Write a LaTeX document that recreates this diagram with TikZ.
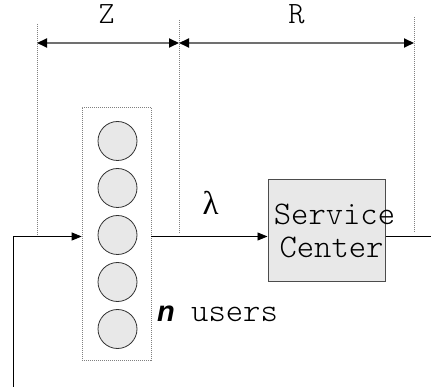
\documentclass[tikz,border=0pt]{standalone}
\usepackage{fontspec}
\newfontfamily\nfont{Liberation Sans}
\newfontfamily\lamfont{Liberation Serif}
\newfontfamily\ttlight{Latin Modern Mono Light}
\usetikzlibrary{arrows.meta}
\definecolor{dimgray}{HTML}{707070}
\definecolor{cellfill}{HTML}{E8E8E8}
\tikzset{
  guide/.style={draw=gray, line width=0.6pt, dash pattern=on 1pt off 1pt},
  dimarrow/.style={draw=dimgray, line width=2pt, {Triangle[length=10pt,width=9pt,color=black]}-{Triangle[length=10pt,width=9pt,color=black]}},
  flow/.style={draw=black, line width=0.9pt, -{Triangle[length=10pt,width=8pt]}},
  plain/.style={draw=black, line width=0.9pt},
  usercell/.style={circle, draw=black!80, fill=cellfill, line width=0.8pt, minimum size=39pt, inner sep=0pt},
  holder/.style={draw=gray, line width=0.6pt, dash pattern=on 1pt off 1pt, minimum width=69pt, minimum height=253pt, inner sep=0pt},
  server/.style={draw=black!70, fill=cellfill, line width=1pt, minimum width=117pt, minimum height=102pt, inner sep=0pt},
  tt/.style={font=\fontsize{33}{35}\ttlight, inner sep=0pt},
}
\begin{document}
\begin{tikzpicture}[x=1pt,y=-1pt]
\useasboundingbox (0,0) rectangle (431,387);
% guides
\coordinate (g1t) at (37,24);  \coordinate (g1b) at (37,235);
\coordinate (g2t) at (179,20); \coordinate (g2b) at (179,233);
\coordinate (g3t) at (414,17); \coordinate (g3b) at (414,232);
\draw[guide] (g1t) -- (g1b);
\draw[guide] (g2t) -- (g2b);
\draw[guide] (g3t) -- (g3b);
% dimensions
\coordinate (d1) at (37,43);
\coordinate (d2) at (179,43);
\coordinate (d3) at (414,43);
\draw[dimarrow] (d1) -- (d2);
\draw[dimarrow] (d2) -- (d3);
\node[font=\fontsize{31}{33}\ttlight, inner sep=0pt, anchor=base] (zl) at (106.5,24) {Z};
\node[font=\fontsize{31}{33}\ttlight, inner sep=0pt, anchor=base] (rl) at (296.5,24) {R};
% users box
\node[holder] (box) at (116.5,233.5) {};
\foreach \i/\y in {1/141,2/188,3/235,4/282,5/329}
  \node[usercell] (u\i) at (117.5,\y) {};
% service center
\node[server] (sc) at (326.5,231) {};
\node[tt, anchor=base] (s1) at (334.5,225) {Service};
\node[tt, anchor=base] (s2) at (331.5,258) {Center};
% flow
\coordinate (L) at (0,236.5);
\coordinate (bot) at (13,387);
\coordinate (out) at (431,236.5);
\draw[flow] (bot) |- (box.west |- L);
\draw[flow] (box.east |- L) -- (sc.west |- L);
\draw[plain] (sc.east |- L) -- (out);
% labels
\node[font=\fontsize{33}{35}\lamfont, inner sep=0pt, anchor=base] (lam) at (210.5,215) {λ};
\node[font=\fontsize{29}{31}\nfont\bfseries\itshape, inner sep=0pt, anchor=base west] (nn) at (157,322) {n};
\node[tt, anchor=base west] (us) at (191,322) {users};
\end{tikzpicture}
\end{document}
